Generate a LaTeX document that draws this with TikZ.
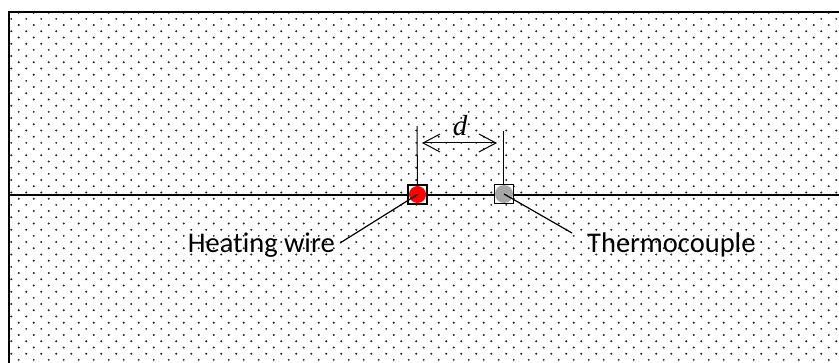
\documentclass[tikz,border=0pt]{standalone}
\usepackage{fontspec}
\setmainfont[Ligatures=NoCommon]{Carlito}
\newfontfamily\dfont{Liberation Serif}
\usetikzlibrary{arrows.meta,patterns}
\pgfdeclarepatternformonly{mydots}{\pgfpoint{-1pt}{-1pt}}{\pgfpoint{16pt}{13.4pt}}{\pgfpoint{15pt}{12.4pt}}{%
  \pgfpathcircle{\pgfpoint{3.75pt}{3.1pt}}{1.1pt}%
  \pgfpathcircle{\pgfpoint{11.25pt}{9.3pt}}{1.1pt}%
  \pgfusepath{fill}}
\tikzset{
  sensorbox/.style={draw=black, line width=1.3pt, fill=white, minimum size=19pt, inner sep=0pt},
  label/.style={font=\fontsize{28.5}{30}\selectfont, inner sep=0pt},
  leader/.style={line width=1.2pt},
  dimline/.style={line width=1pt},
  dimarrow/.style={line width=1pt, {Straight Barb[length=17pt,width=18pt]}-{Straight Barb[length=17pt,width=18pt]}}
}
\begin{document}
\begin{tikzpicture}[x=1pt,y=-1pt]
\useasboundingbox (0,0) rectangle (839,363);
\clip (0,0) rectangle (839,363);
\fill[white] (0,0) rectangle (839,363);
\fill[pattern=mydots, pattern color=black!85] (9,12) rectangle (845,370);
\draw[line width=1.5pt] (9,370) -- (9,12) -- (845,12);
\draw[line width=1.2pt] (9,195) -- (845,195);
% vertical reference lines
\coordinate (ltop) at (417,126);
\coordinate (rtop) at (503,131);
\node[sensorbox] (hw) at (417.5,194.5) {};
\node[sensorbox] (tc) at (504,194) {};
\fill[red] (hw.center) circle (8.5pt);
\fill[black!35] (tc.center) circle (9pt);
\draw[dimline] (ltop) -- (hw.north);
\draw[dimline] (rtop) -- (tc.north -| rtop);
\coordinate (al) at (422,143);
\coordinate (ar) at (497,143);
\draw[dimarrow] (al) -- (ar);
\node[font=\fontsize{29}{32}\selectfont\dfont\itshape, inner sep=0pt, anchor=base] (dlab) at (460,136) {d};
% labels
\node[label, anchor=base east] (hwl) at (335,253) {Heating wire};
\node[label, anchor=base west] (tcl) at (587,253) {Thermocouple};
\coordinate (hwend) at (340,243);
\coordinate (tcend) at (572,233);
\draw[leader] (hw.center) -- (hwend);
\draw[leader] (tc.center) -- (tcend);
\end{tikzpicture}
\end{document}
